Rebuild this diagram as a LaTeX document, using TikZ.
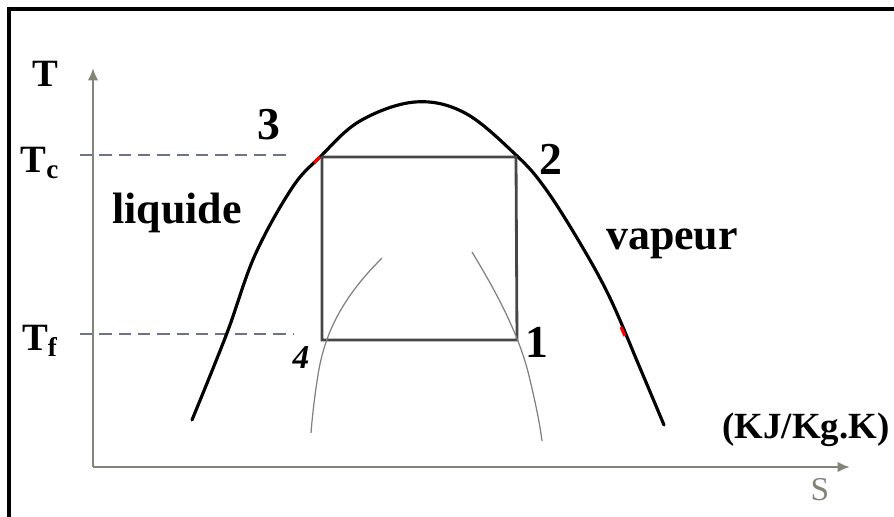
\documentclass[tikz,border=0pt]{standalone}
\usepackage{fontspec}
\setmainfont{Liberation Serif}
\usetikzlibrary{arrows.meta}

\definecolor{axisgray}{RGB}{130,132,120}
\definecolor{cyclegray}{RGB}{70,70,70}
\definecolor{dashgray}{RGB}{110,115,135}

\tikzset{
  axis/.style={line width=1.6pt,axisgray,-{Latex[length=7pt,width=6pt]}},
  level/.style={line width=1.3pt,dashgray,dash pattern=on 7pt off 4pt},
  cycle/.style={line width=1.6pt,cyclegray},
  thin curve/.style={line width=0.7pt,gray},
  lbl/.style={font=\fontsize{25}{28}\selectfont\bfseries,inner sep=0pt},
}

\begin{document}
\begin{tikzpicture}[x=0.02cm,y=-0.02cm,>=Latex]
  \useasboundingbox (0,0) rectangle (894,517);
  % frame
  \draw[line width=1.8pt] (9,517) -- (9,9) -- (894,9);

  % axes
  \coordinate (O) at (93,467);
  \coordinate (Ttop) at (93,68);
  \coordinate (Send) at (850,467);
  \draw[axis] (O) -- (Ttop);
  \draw[axis] (O) -- (Send);

  % cycle corners
  \coordinate (p3) at (322,157);
  \coordinate (p2) at (516,157);
  \coordinate (p1) at (517,340);
  \coordinate (p4) at (322,340);

  % temperature levels
  \coordinate (tc) at (80,155);
  \coordinate (tcend) at (292,155);
  \coordinate (tf) at (80,334);
  \coordinate (tfend) at (294,334);
  \draw[level] (tc) -- (tcend);
  \draw[level] (tf) -- (tfend);

  % saturation dome
  \draw[line width=1.8pt,line cap=round] plot[smooth,tension=0.6] coordinates
    {(192,420) (227,333) (255,255) (292,188) (320,157) (360,121) (415,102)
     (465,113) (516,155) (545,188) (580,243) (610,298) (640,368) (664,425)};
  \draw[red,line width=1.8pt] (314,163) -- (320,157);
  \draw[red,line width=1.8pt] (621,327) -- (625,336);

  % cycle
  \draw[cycle] (p3) -- (p2) -- (p1) -- (p4) -- cycle;

  % inner curves
  \draw[thin curve] (382,258) .. controls (345,295) and (325,330) .. (318,375)
    .. controls (314,400) and (312,420) .. (311,433);
  \draw[thin curve] (472,252) .. controls (495,290) and (520,335) .. (530,380)
    .. controls (536,405) and (540,425) .. (542,441);

  % labels
  \node[lbl,font=\fontsize{22}{24}\selectfont\bfseries] (Tlab) at (45,74) {T};
  \node[lbl,font=\fontsize{22}{24}\selectfont\bfseries] (Tclab) at (40,163) {T\textsubscript{c}};
  \node[lbl,font=\fontsize{22}{24}\selectfont\bfseries] (Tflab) at (40,341) {T\textsubscript{f}};
  \node[lbl] (liq) at (177,213) {liquide};
  \node[lbl] (vap) at (672,244) {vapeur};
  \node[lbl,font=\fontsize{26}{28}\selectfont\bfseries] (n3) at (269,125) {3};
  \node[lbl,font=\fontsize{26}{28}\selectfont\bfseries] (n2) at (551,159) {2};
  \node[lbl,font=\fontsize{26}{28}\selectfont\bfseries] (n1) at (537,342) {1};
  \node[lbl,font=\fontsize{19}{22}\selectfont\bfseries\itshape] (n4) at (301,358) {4};
  \node[lbl,font=\fontsize{21}{24}\selectfont\bfseries,anchor=west] (unit) at (722,430) {(KJ/Kg.K)};
  \node[lbl,font=\fontsize{19}{22}\selectfont,text=axisgray] (Slab) at (820,490) {S};
\end{tikzpicture}
\end{document}
